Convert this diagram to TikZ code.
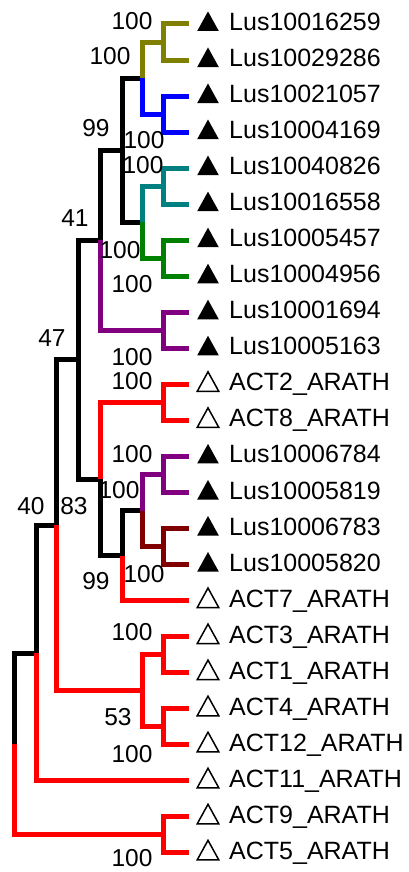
\documentclass[tikz,border=0pt]{standalone}
\usepackage{fontspec}
\setmainfont{Liberation Sans}
\definecolor{cladeolive}{RGB}{128,128,0}
\definecolor{cladeblue}{RGB}{0,0,255}
\definecolor{cladeteal}{RGB}{0,128,128}
\definecolor{cladegreen}{RGB}{0,128,0}
\definecolor{cladepurple}{RGB}{128,0,128}
\definecolor{cladered}{RGB}{255,0,0}
\definecolor{clademaroon}{RGB}{128,0,0}
\begin{document}
\begin{tikzpicture}[x=1pt,y=-1pt,
  branch/.style={line width=5pt},
  taxon/.style={anchor=base west, inner sep=0pt, font=\fontsize{25}{30}\selectfont},
  support/.style={inner sep=0pt, font=\fontsize{24.5}{28}\selectfont},
  lusmark/.style={fill=black},
  athmark/.style={draw=black, line width=1.5pt, line join=miter, fill=white}]
\useasboundingbox (0,0) rectangle (409,872);

% leaf tips
\foreach \i in {0,...,23}{
  \pgfmathsetmacro{\ty}{24+36.04*\i}
  \coordinate (t\i) at (189,\ty);
}

% internal nodes
\coordinate (nA)    at (163,42.02);
\coordinate (nB)    at (163,114.10);
\coordinate (nAB)   at (142,78.06);
\coordinate (nC)    at (163,186.18);
\coordinate (nD)    at (163,258.26);
\coordinate (nCD)   at (142,222.22);
\coordinate (nABCD) at (122,150.14);
\coordinate (nP1)   at (163,330.34);
\coordinate (nE)    at (100,240.24);
\coordinate (nQ)    at (163,402.42);
\coordinate (nP2)   at (163,474.50);
\coordinate (nM)    at (163,546.58);
\coordinate (nH)    at (142,510.54);
\coordinate (nG)    at (122,555.59);
\coordinate (nF)    at (100,479.00);
\coordinate (nI)    at (78,359.62);
\coordinate (nR1)   at (163,654.70);
\coordinate (nR2)   at (163,726.78);
\coordinate (nK)    at (142,690.74);
\coordinate (nJ)    at (56,525.18);
\coordinate (nL)    at (36,653.01);
\coordinate (nS)    at (163,834.90);
\coordinate (nRoot) at (14,743.96);

% inner edges, each in the colour of the clade below it
\draw[branch,black]       (nRoot) |- (nL);
\draw[branch,cladered]    (nRoot) |- (nS);
\draw[branch,black]       (nL) |- (nJ);
\draw[branch,black]       (nJ) |- (nI);
\draw[branch,cladered]    (nJ) |- (nK);
\draw[branch,cladered]    (nK) |- (nR1);
\draw[branch,cladered]    (nK) |- (nR2);
\draw[branch,black]       (nI) |- (nE);
\draw[branch,black]       (nI) |- (nF);
\draw[branch,black]       (nE) |- (nABCD);
\draw[branch,cladepurple] (nE) |- (nP1);
\draw[branch,black]       (nABCD) |- (nAB);
\draw[branch,black]       (nABCD) |- (nCD);
\draw[branch,cladeolive]  (nAB) |- (nA);
\draw[branch,cladeblue]   (nAB) |- (nB);
\draw[branch,cladeteal]   (nCD) |- (nC);
\draw[branch,cladegreen]  (nCD) |- (nD);
\draw[branch,cladered]    (nF) |- (nQ);
\draw[branch,black]       (nF) |- (nG);
\draw[branch,black]       (nG) |- (nH);
\draw[branch,cladepurple] (nH) |- (nP2);
\draw[branch,clademaroon] (nH) |- (nM);

% leaves: index / parent / colour / name / marker
\foreach \i/\p/\c/\n/\m in {
  0/nA/cladeolive/Lus10016259/lusmark,
  1/nA/cladeolive/Lus10029286/lusmark,
  2/nB/cladeblue/Lus10021057/lusmark,
  3/nB/cladeblue/Lus10004169/lusmark,
  4/nC/cladeteal/Lus10040826/lusmark,
  5/nC/cladeteal/Lus10016558/lusmark,
  6/nD/cladegreen/Lus10005457/lusmark,
  7/nD/cladegreen/Lus10004956/lusmark,
  8/nP1/cladepurple/Lus10001694/lusmark,
  9/nP1/cladepurple/Lus10005163/lusmark,
  10/nQ/cladered/ACT2\_ARATH/athmark,
  11/nQ/cladered/ACT8\_ARATH/athmark,
  12/nP2/cladepurple/Lus10006784/lusmark,
  13/nP2/cladepurple/Lus10005819/lusmark,
  14/nM/clademaroon/Lus10006783/lusmark,
  15/nM/clademaroon/Lus10005820/lusmark,
  16/nG/cladered/ACT7\_ARATH/athmark,
  17/nR1/cladered/ACT3\_ARATH/athmark,
  18/nR1/cladered/ACT1\_ARATH/athmark,
  19/nR2/cladered/ACT4\_ARATH/athmark,
  20/nR2/cladered/ACT12\_ARATH/athmark,
  21/nL/cladered/ACT11\_ARATH/athmark,
  22/nS/cladered/ACT9\_ARATH/athmark,
  23/nS/cladered/ACT5\_ARATH/athmark}{
  \pgfmathsetmacro{\ty}{24+36.04*\i}
  \draw[branch,\c] (\p) |- (t\i);
  \path[\m] (197.2,\ty+7) -- (208,\ty-12.6) -- (218.8,\ty+7) -- cycle;
  \node[taxon] (leaf\i) at (229,\ty+6.5) {\n};
}

% bootstrap support values
\node[support] (s1)  at (132,21)  {100};
\node[support] (s2)  at (110,56)  {100};
\node[support] (s3)  at (96,128)  {99};
\node[support] (s4)  at (144,140) {100};
\node[support] (s5)  at (143,165) {100};
\node[support] (s6)  at (75,218)  {41};
\node[support] (s7)  at (120,250) {100};
\node[support] (s8)  at (132,284) {100};
\node[support] (s9)  at (52,338)  {47};
\node[support] (s10) at (132,357) {100};
\node[support] (s11) at (132,381) {100};
\node[support] (s12) at (132,454) {100};
\node[support] (s13) at (119,490) {100};
\node[support] (s14) at (31,506)  {40};
\node[support] (s15) at (74,506)  {83};
\node[support] (s16) at (144,574) {100};
\node[support] (s17) at (96,581)  {99};
\node[support] (s18) at (132,632) {100};
\node[support] (s19) at (118,717) {53};
\node[support] (s20) at (132,754) {100};
\node[support] (s21) at (132,858) {100};
\end{tikzpicture}
\end{document}
